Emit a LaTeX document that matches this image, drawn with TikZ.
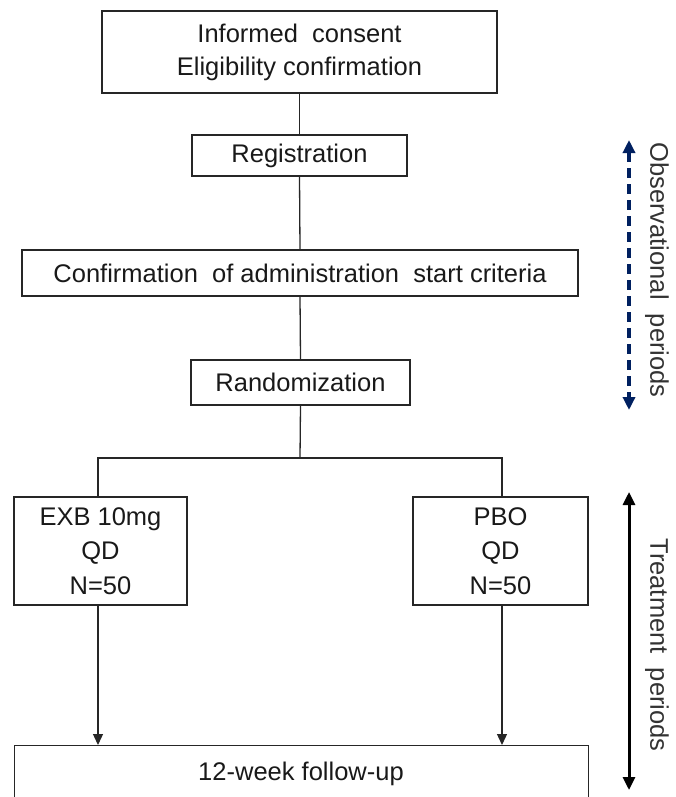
\documentclass[tikz,border=0pt]{standalone}
\usepackage{fontspec}
\setmainfont{Liberation Sans}
\usetikzlibrary{arrows.meta}
\definecolor{navy}{RGB}{0,32,96}
\definecolor{txt}{RGB}{25,25,25}
\tikzset{
  box/.style={draw=black!85, line width=1.3pt, rectangle, align=center, inner sep=0pt, font=\fontsize{25.5}{33}\selectfont, text=txt},
  link/.style={draw=black!85, line width=1.3pt},
  arr/.style={link, -{Triangle[length=11pt,width=10pt]}},
  side/.style={font=\fontsize{25.5}{30}\selectfont, text=black!80, rotate=-90}
}
\begin{document}
\begin{tikzpicture}[x=1pt,y=-1pt]
\useasboundingbox (0,0) rectangle (675,797);
\begin{scope}
\clip (0,0) rectangle (675,797);
\node[box, minimum width=395pt, minimum height=82pt] (ic) at (299.5,52) {\raisebox{-3pt}{\parbox{380pt}{\centering Informed\ \ consent\\Eligibility confirmation}}};
\node[box, minimum width=215pt, minimum height=41pt] (reg) at (299.5,155.5) {Registration};
\node[box, minimum width=556pt, minimum height=46pt] (conf) at (300,273) {Confirmation\ \ of administration\ \ start criteria};
\node[box, minimum width=219pt, minimum height=45pt] (rand) at (300.5,382.5) {Randomization};
\node[box, minimum width=173pt, minimum height=108pt, font=\fontsize{25.5}{34.5}\selectfont] (exb) at (100.5,551) {\raisebox{-3pt}{\parbox{160pt}{\centering EXB 10mg\\QD\\N=50}}};
\node[box, minimum width=175pt, minimum height=108pt, font=\fontsize{25.5}{34.5}\selectfont] (pbo) at (500.5,551) {\raisebox{-3pt}{\parbox{160pt}{\centering PBO\\QD\\N=50}}};
\node[box, minimum width=574pt, minimum height=80pt, anchor=north west, text height=0pt] (fu) at (14,745) {};
\node[font=\fontsize{25.5}{30}\selectfont, text=txt] (fut) at (301,774) {12-week follow-up};
\coordinate (split) at (300,458);
\coordinate (sl) at (98,458);
\coordinate (sr) at (502,458);
\draw[link] (ic.south) -- (reg.north);
\draw[link] (reg.south) -- (conf.north);
\draw[link] (conf.south) -- (rand.north);
\draw[link] (rand.south) -- (split);
\draw[link] (sl |- exb.north) -- (sl) -- (sr) -- (sr |- pbo.north);
\draw[arr] (sl |- exb.south) -- (sl |- fu.north);
\draw[arr] (sr |- pbo.south) -- (sr |- fu.north);
\coordinate (ot) at (629,140);
\coordinate (ob) at (629,410);
\draw[navy, line width=3.5pt, dash pattern=on 10pt off 6pt, {Triangle[length=13pt,width=12pt]}-{Triangle[length=13pt,width=12pt]}] (ot) -- (ob);
\node[side] (ol) at (657,270) {Observational\ \ periods};
\coordinate (tt) at (629,492);
\coordinate (tb) at (629,790);
\draw[black, line width=3pt, {Triangle[length=13pt,width=12pt]}-{Triangle[length=13pt,width=12pt]}] (tt) -- (tb);
\node[side] (tl) at (657,645) {Treatment\ \ periods};
\end{scope}
\end{tikzpicture}
\end{document}
